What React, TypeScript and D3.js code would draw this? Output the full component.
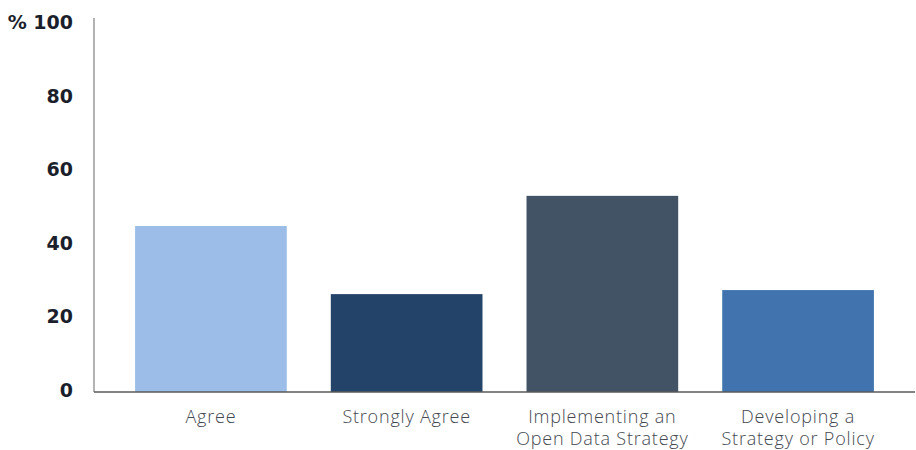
import React from "react";
import * as d3 from "d3";

const categories: string[][] = [
  ["Agree"],
  ["Strongly Agree"],
  ["Implementing an", "Open Data Strategy"],
  ["Developing a", "Strategy or Policy"],
];
const values: number[] = [45.1, 26.6, 53.3, 27.7];
const colors: string[] = ["#9BBDE7", "#244368", "#425366", "#4174AE"];
const yTicks: number[] = [0, 20, 40, 60, 80, 100];

const W = 916;
const H = 450;

export default function App() {
  const x = d3
    .scaleBand<number>()
    .domain(values.map((_, i) => i))
    .range([94, 915])
    .paddingInner(0.225)
    .paddingOuter(0.21);
  const y = d3.scaleLinear().domain([0, 100]).range([392, 24]);

  return (
    <svg
      width={W}
      height={H}
      style={{ position: "absolute", left: 0, top: 0, background: "#fff" }}
    >
      {values.map((v, i) => (
        <rect
          key={i}
          x={x(i)}
          y={y(v)}
          width={x.bandwidth()}
          height={y(0) - y(v)}
          fill={colors[i]}
        />
      ))}
      <line x1={94} x2={94} y1={18} y2={392} stroke="#9a9a9a" strokeWidth={1.5} />
      <line x1={94} x2={915} y1={392} y2={392} stroke="#5a5a5a" strokeWidth={1.5} />
      {yTicks.map((t) => (
        <text
          key={t}
          x={73}
          y={y(t) + 5}
          textAnchor="end"
          fontFamily="'DejaVu Sans', sans-serif"
          fontWeight="bold"
          fontSize={19}
          fill="#1b1f2c"
        >
          {t === 100 ? "% 100" : t}
        </text>
      ))}
      {categories.map((lines, i) => (
        <text
          key={i}
          x={(x(i) as number) + x.bandwidth() / 2}
          y={423}
          textAnchor="middle"
          fontFamily="'Open Sans', sans-serif"
          fontWeight={300}
          fontSize={18}
          letterSpacing={0.8}
          fill="#44484f"
        >
          {lines.map((l, j) => (
            <tspan key={j} x={(x(i) as number) + x.bandwidth() / 2} dy={j === 0 ? 0 : 22}>
              {l}
            </tspan>
          ))}
        </text>
      ))}
    </svg>
  );
}
